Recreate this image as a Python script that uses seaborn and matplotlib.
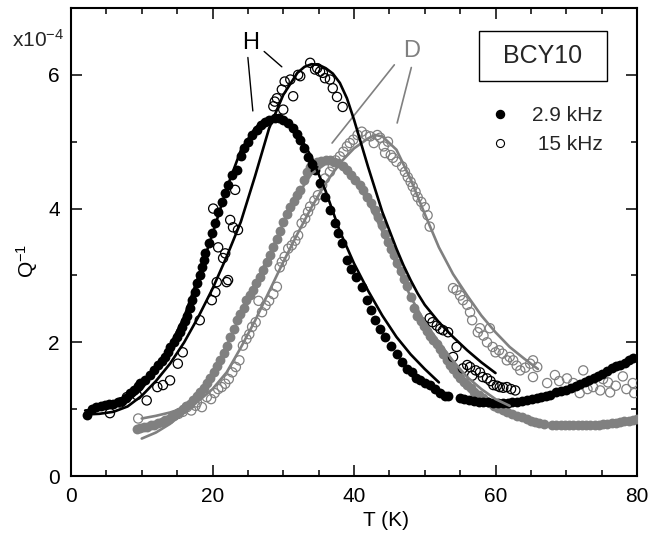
import numpy as np
import pandas as pd
import matplotlib
matplotlib.use("Agg")
import matplotlib.pyplot as plt
from matplotlib.ticker import MultipleLocator, FixedLocator
from matplotlib.lines import Line2D
from matplotlib.patches import Rectangle
import seaborn as sns

sns.set_style("ticks")
plt.rcParams["font.family"] = ["Liberation Sans", "DejaVu Sans"]
plt.rcParams["mathtext.default"] = "regular"

# ---------------- data (Q^-1 in units of 1e-4) ----------------
# H, 2.9 kHz (filled black)
h29_T = [2.2, 3.0, 3.6, 4.2, 4.8, 5.4, 6.0, 6.6, 7.2, 7.8, 8.3, 8.9, 9.5, 9.8, 10.4, 11.2, 11.8, 12.3, 12.8, 13.3,
         13.7, 14.0, 14.5, 15.0, 15.4, 15.7, 16.1, 16.4, 16.8, 17.1, 17.5, 17.8, 18.2, 18.5, 18.8, 19.0, 19.5, 19.9,
         20.3, 20.8, 21.3, 21.8, 22.2, 22.7, 23.4, 24.0, 24.5, 25.0, 25.6, 26.3, 26.9, 27.4, 28.0, 28.8, 29.4, 30.0,
         30.7, 31.4, 31.9, 32.4, 33.0, 33.5, 34.0, 34.5, 35.2, 35.9, 36.6, 37.3, 37.8, 38.3, 39.0, 39.6, 40.3, 41.1,
         41.8, 42.4, 43.0, 43.7, 44.4, 45.2, 46.1, 46.8, 47.5, 48.2, 48.8, 49.3, 50.0, 50.7, 51.4, 52.2, 52.8, 53.3,
         55.0, 55.6, 56.3, 57.0, 57.6, 58.2, 58.9, 59.6, 60.3, 61.0, 61.7, 62.4, 63.0, 63.7, 64.4, 65.1, 65.8, 66.5,
         67.1, 67.7, 68.6, 69.2, 70.0, 70.7, 71.4, 72.0, 72.6, 73.2, 73.9, 74.5, 75.1, 75.7, 76.4, 77.0, 77.6, 78.3,
         78.9, 79.5]
h29_Q = [0.91, 1.00, 1.03, 1.05, 1.06, 1.07, 1.08, 1.10, 1.12, 1.16, 1.24, 1.28, 1.35, 1.39, 1.43, 1.51, 1.58, 1.66,
         1.72, 1.78, 1.86, 1.93, 2.00, 2.08, 2.16, 2.23, 2.32, 2.40, 2.52, 2.63, 2.75, 2.88, 3.00, 3.12, 3.23, 3.33,
         3.48, 3.63, 3.78, 3.95, 4.10, 4.23, 4.36, 4.50, 4.58, 4.78, 4.90, 5.00, 5.10, 5.18, 5.25, 5.30, 5.33, 5.36,
         5.35, 5.33, 5.28, 5.21, 5.12, 5.03, 4.90, 4.77, 4.67, 4.58, 4.38, 4.17, 3.98, 3.78, 3.63, 3.48, 3.23, 3.10,
         2.97, 2.83, 2.63, 2.48, 2.33, 2.20, 2.08, 1.95, 1.83, 1.70, 1.60, 1.55, 1.47, 1.43, 1.39, 1.36, 1.30, 1.24,
         1.20, 1.19, 1.16, 1.15, 1.13, 1.12, 1.11, 1.10, 1.10, 1.09, 1.09, 1.09, 1.09, 1.10, 1.10, 1.12, 1.13, 1.15,
         1.17, 1.18, 1.20, 1.21, 1.25, 1.27, 1.28, 1.31, 1.34, 1.37, 1.40, 1.44, 1.47, 1.50, 1.53, 1.57, 1.61, 1.64,
         1.66, 1.69, 1.73, 1.76]

# H, 15 kHz (open black)
h15_T = [5.5, 7.0, 7.9, 9.3, 10.7, 12.2, 13.0, 14.0, 15.1, 15.8, 18.2, 19.9, 20.4, 20.6, 22.0, 22.2, 21.5, 20.8,
         21.8, 22.9, 23.6, 20.1, 23.2, 22.5, 28.6, 28.8, 29.1, 29.8, 30.0, 30.2, 31.0, 31.4, 32.1, 32.4, 33.8, 34.5,
         34.8, 35.2, 35.6, 35.9, 36.6, 37.0, 37.6, 38.4, 50.7, 51.1, 51.7, 52.2, 52.6, 53.3, 54.0, 54.5, 55.4, 56.0,
         56.4, 56.7, 57.2, 57.8, 58.2, 58.8, 59.3, 59.7, 60.2, 60.6, 61.1, 61.6, 62.2, 62.8]
h15_Q = [0.94, 1.10, 1.18, 1.21, 1.13, 1.33, 1.36, 1.43, 1.68, 1.85, 2.33, 2.63, 2.75, 2.90, 2.90, 2.93, 3.26, 3.42,
         3.33, 3.72, 3.68, 4.00, 4.28, 3.83, 5.53, 5.60, 5.65, 5.78, 5.48, 5.90, 5.93, 5.68, 6.00, 5.98, 6.18, 6.08,
         6.10, 6.05, 6.03, 5.95, 5.93, 5.80, 5.67, 5.52, 2.36, 2.30, 2.25, 2.20, 2.18, 2.15, 1.78, 1.93, 1.61, 1.66,
         1.63, 1.50, 1.58, 1.55, 1.48, 1.46, 1.42, 1.36, 1.35, 1.33, 1.32, 1.33, 1.30, 1.28]

# D, 2.9 kHz (filled grey)
d29_T = [9.3, 9.8, 10.3, 10.8, 11.3, 11.8, 12.3, 12.8, 13.3, 13.8, 14.3, 14.8, 15.3, 15.8, 16.3, 16.8, 17.3, 17.8,
         18.3, 18.8, 19.2, 19.7, 20.2, 20.7, 21.1, 21.6, 22.0, 22.5, 23.0, 23.5, 23.9, 24.4, 24.8, 25.3, 25.7, 26.2,
         26.7, 27.2, 27.7, 28.1, 28.6, 29.1, 29.5, 30.0, 30.5, 31.0, 31.5, 32.0, 32.4, 32.9, 33.4, 33.8, 34.2, 34.8,
         35.4, 36.0, 36.6, 37.2, 37.8, 38.4, 39.0, 39.6, 40.2, 40.8, 41.3, 41.9, 42.4, 42.9, 43.4, 43.9, 44.4, 44.8,
         45.3, 45.7, 46.1, 46.6, 47.1, 47.5, 48.0, 48.5, 48.9, 49.4, 49.9, 50.3, 50.8, 51.2, 51.7, 52.2, 52.6, 53.1,
         53.6, 54.0, 54.5, 55.0, 55.5, 56.0, 56.5, 57.0, 57.6, 58.2, 58.7, 59.2, 59.8, 60.4, 61.0, 61.6, 62.3, 63.0,
         63.7, 64.4, 65.0, 65.6, 66.2, 66.8, 68.0, 68.6, 69.2, 69.8, 70.4, 71.0, 71.6, 72.2, 72.8, 73.4, 74.0, 74.6,
         75.2, 75.8, 76.4, 77.0, 77.6, 78.2, 78.8, 79.4, 80.0]
d29_Q = [0.71, 0.72, 0.73, 0.74, 0.76, 0.77, 0.79, 0.81, 0.84, 0.86, 0.89, 0.92, 0.96, 1.00, 1.04, 1.08, 1.13, 1.19,
         1.26, 1.32, 1.39, 1.47, 1.55, 1.64, 1.73, 1.84, 1.94, 2.08, 2.20, 2.33, 2.43, 2.52, 2.63, 2.71, 2.78, 2.88,
         2.98, 3.08, 3.20, 3.30, 3.42, 3.55, 3.66, 3.80, 3.92, 4.03, 4.12, 4.20, 4.28, 4.42, 4.55, 4.62, 4.66, 4.69,
         4.71, 4.72, 4.72, 4.70, 4.68, 4.63, 4.57, 4.50, 4.43, 4.36, 4.28, 4.17, 4.08, 3.98, 3.87, 3.75, 3.62, 3.50,
         3.40, 3.30, 3.18, 3.06, 2.94, 2.84, 2.68, 2.52, 2.40, 2.32, 2.24, 2.17, 2.10, 2.04, 1.98, 1.90, 1.82, 1.73,
         1.66, 1.60, 1.53, 1.47, 1.41, 1.36, 1.31, 1.26, 1.21, 1.16, 1.12, 1.09, 1.05, 1.02, 0.98, 0.95, 0.92, 0.90,
         0.88, 0.86, 0.83, 0.81, 0.79, 0.78, 0.77, 0.77, 0.77, 0.76, 0.76, 0.76, 0.76, 0.76, 0.76, 0.76, 0.77, 0.77,
         0.78, 0.78, 0.79, 0.80, 0.81, 0.82, 0.83, 0.84, 0.85]

# D, 15 kHz (open grey)
d15_T = [9.5, 14.6, 15.2, 15.8, 16.4, 17.0, 17.6, 17.8, 18.5, 19.2, 19.8, 20.3, 20.8, 21.3, 21.8, 22.3, 22.8, 23.3,
         23.8, 24.3, 24.8, 25.2, 25.6, 26.1, 26.5, 27.0, 27.5, 28.0, 28.6, 29.1, 29.5, 29.8, 30.2, 30.7, 31.2, 31.7,
         32.1, 32.6, 33.1, 33.5, 33.8, 34.4, 34.9, 35.5, 35.9, 36.6, 37.0, 37.4, 38.0, 38.5, 39.0, 39.4, 39.9, 40.5,
         41.1, 41.7, 42.3, 42.8, 43.3, 43.7, 44.2, 44.8, 44.4, 45.2, 45.5, 46.0, 46.8, 47.2, 47.6, 48.0, 48.3, 48.7,
         49.0, 49.5, 50.0, 50.4, 50.7, 54.0, 54.5, 55.0, 55.4, 56.0, 56.4, 56.7, 57.5, 57.8, 58.3, 58.8, 59.2, 59.6,
         60.0, 60.5, 61.0, 61.6, 62.0, 62.5, 63.0, 63.5, 64.2, 64.9, 65.3, 65.3, 65.9, 67.3, 68.4, 69.0, 70.1, 71.0,
         71.9, 72.4, 73.0, 73.8, 74.8, 75.2, 75.9, 76.2, 77.0, 78.0, 78.5, 79.4, 79.6]
d15_Q = [0.86, 0.90, 0.93, 0.96, 1.03, 0.98, 1.05, 1.10, 1.03, 1.18, 1.15, 1.24, 1.30, 1.33, 1.38, 1.45, 1.55, 1.63,
         1.73, 1.95, 2.05, 2.12, 2.23, 2.30, 2.62, 2.45, 2.55, 2.62, 2.72, 2.83, 3.12, 3.20, 3.28, 3.40, 3.45, 3.52,
         3.60, 3.78, 3.85, 3.95, 4.03, 4.12, 4.20, 4.35, 4.45, 4.55, 4.63, 4.72, 4.78, 4.85, 4.93, 4.98, 5.03, 5.10,
         5.15, 5.10, 5.08, 4.98, 5.10, 5.06, 4.93, 5.00, 4.83, 4.80, 4.76, 4.70, 4.63, 4.55, 4.47, 4.40, 4.33, 4.25,
         4.17, 4.10, 4.02, 3.90, 3.73, 2.81, 2.78, 2.70, 2.63, 2.56, 2.45, 2.33, 2.15, 2.21, 2.10, 2.00, 2.21, 1.93,
         1.85, 1.88, 1.83, 1.73, 1.78, 1.73, 1.65, 1.58, 1.62, 1.68, 1.73, 1.48, 1.63, 1.39, 1.51, 1.42, 1.46, 1.39,
         1.24, 1.58, 1.30, 1.33, 1.28, 1.45, 1.40, 1.25, 1.35, 1.49, 1.30, 1.39, 1.24]

# fit curves
fit_h29_T = [2, 4, 6, 8, 10, 12, 14, 16, 18, 20, 22, 24, 26, 27, 28, 29, 30, 31, 32, 34, 36, 38, 40, 42, 44, 46, 48,
             50, 52]
fit_h29_Q = [0.98, 1.00, 1.03, 1.12, 1.30, 1.60, 1.95, 2.38, 2.98, 3.62, 4.30, 4.87, 5.20, 5.30, 5.36, 5.38, 5.35,
             5.27, 5.14, 4.77, 4.26, 3.66, 3.18, 2.77, 2.40, 2.08, 1.82, 1.60, 1.40]
fit_h15_T = [2, 4, 6, 8, 10, 12, 14, 16, 18, 20, 22, 24, 26, 28, 30, 32, 33, 34, 35, 36, 37, 38, 39, 40, 42, 44, 46,
             47, 48, 49, 50, 52, 54, 56, 58, 60]
fit_h15_Q = [0.92, 0.93, 0.96, 1.04, 1.20, 1.42, 1.68, 2.00, 2.38, 2.80, 3.28, 3.80, 4.48, 5.20, 5.70, 6.03, 6.12,
             6.16, 6.15, 6.10, 6.02, 5.88, 5.65, 5.33, 4.62, 3.95, 3.40, 3.15, 2.93, 2.73, 2.56, 2.30, 2.08, 1.88,
             1.70, 1.54]
fit_d29_T = [10, 12, 14, 16, 18, 20, 22, 24, 26, 28, 30, 32, 34, 36, 37, 38, 40, 42, 44, 46, 48, 50, 52, 54, 56, 58,
             60, 62]
fit_d29_Q = [0.56, 0.65, 0.78, 0.95, 1.18, 1.50, 1.95, 2.42, 2.87, 3.30, 3.78, 4.20, 4.52, 4.67, 4.68, 4.66, 4.45,
             4.10, 3.66, 3.16, 2.68, 2.30, 2.00, 1.72, 1.48, 1.30, 1.15, 1.05]
fit_d15_T = [10, 12, 14, 16, 18, 20, 22, 24, 26, 28, 30, 32, 34, 36, 38, 40, 42, 43, 44, 46, 48, 50, 52, 54, 56, 58,
             60, 62, 64, 66]
fit_d15_Q = [0.86, 0.90, 0.95, 1.02, 1.12, 1.30, 1.55, 1.92, 2.32, 2.76, 3.20, 3.62, 4.02, 4.38, 4.68, 4.90, 5.05,
             5.10, 5.08, 4.88, 4.44, 3.92, 3.42, 3.02, 2.70, 2.40, 2.15, 1.93, 1.76, 1.60]

x_ticks = [0, 20, 40, 60, 80]
y_ticks = [0, 2, 4, 6]
legend_labels = ["2.9 kHz", " 15 kHz"]

GREY = "#808080"

# ---------------- figure ----------------
W, H = 649, 533
fig = plt.figure(figsize=(W / 100, H / 100), dpi=100)
ax = fig.add_axes([71 / W, 1 - 476 / H, 566 / W, 468 / H])

def scatter(T, Q, color, filled, size):
    sns.scatterplot(x=T, y=Q, ax=ax, color=color, marker="o", s=size,
                    linewidth=0.9 if not filled else 0, edgecolor=color, legend=False, zorder=3)
    if not filled:
        ax.collections[-1].set_facecolor("none")
        ax.collections[-1].set_edgecolor(color)

def fit(T, Q, color):
    sns.lineplot(x=T, y=Q, ax=ax, color=color, linewidth=1.9, estimator=None, sort=False, zorder=4)

scatter(d29_T, d29_Q, GREY, True, 50)
scatter(d15_T, d15_Q, GREY, False, 44)
fit(fit_d29_T, fit_d29_Q, GREY)
fit(fit_d15_T, fit_d15_Q, GREY)
scatter(h29_T, h29_Q, "black", True, 50)
scatter(h15_T, h15_Q, "black", False, 44)
fit(fit_h29_T, fit_h29_Q, "black")
fit(fit_h15_T, fit_h15_Q, "black")

ax.set_xlim(0, 80)
ax.set_ylim(0, 7)
ax.xaxis.set_major_locator(FixedLocator(x_ticks))
ax.yaxis.set_major_locator(FixedLocator(y_ticks))
ax.xaxis.set_minor_locator(MultipleLocator(5))
ax.yaxis.set_minor_locator(MultipleLocator(1))
ax.set_xticklabels([str(v) for v in x_ticks])
ax.set_yticklabels([str(v) for v in y_ticks])
ax.tick_params(which="both", direction="in", top=True, right=True, labelsize=15, width=1.1, pad=8,
               color="black", labelcolor="black")
ax.tick_params(which="major", length=8)
ax.tick_params(which="minor", length=4.5)
for s in ax.spines.values():
    s.set_linewidth(1.5)
    s.set_color("black")

ax.set_xlabel("T (K)", fontsize=15, color="black")
ax.set_ylabel("Q$^{-1}$", fontsize=15, color="black")
ax.xaxis.set_label_coords(0.557, -0.074)
ax.yaxis.set_label_coords(-0.054, 0.46)

fig.text(12 / W, 1 - 47 / H, "x10$^{-4}$", fontsize=15, ha="left", va="baseline")

# annotations H and D
ax.text(25.4, 6.38, "H", fontsize=17, ha="center", va="baseline", color="black")
ax.plot([25.0, 25.7], [6.26, 5.46], color="black", lw=1.0)
ax.plot([27.3, 29.8], [6.35, 6.12], color="black", lw=1.0)
ax.text(48.1, 6.27, "D", fontsize=17, ha="center", va="baseline", color=GREY)
ax.plot([45.7, 36.9], [6.15, 4.98], color=GREY, lw=1.2)
ax.plot([48.1, 46.1], [6.11, 5.28], color=GREY, lw=1.2)

# BCY10 box
x0, x1 = (479 - 71) / 566, (607 - 71) / 566
y0, y1 = (476 - 81) / 468, (476 - 31) / 468
ax.add_patch(Rectangle((x0, y0), x1 - x0, y1 - y0, transform=ax.transAxes, fill=False,
                       edgecolor="black", lw=1.0, zorder=5))
ax.text((x0 + x1) / 2, (y0 + y1) / 2, "BCY10", transform=ax.transAxes, fontsize=18,
        ha="center", va="center", zorder=6)

handles = [Line2D([], [], marker="o", linestyle="", color="black", markersize=5.8),
           Line2D([], [], marker="o", linestyle="", markerfacecolor="none", markeredgecolor="black",
                  markeredgewidth=0.8, markersize=5.8)]
leg = ax.legend(handles, legend_labels, loc="upper left",
                bbox_to_anchor=((489.6 - 71) / 566, (476 - 106) / 468), frameon=False, fontsize=15,
                handlelength=1.0, handletextpad=1.04, labelspacing=0.5, borderpad=0, borderaxespad=0)

fig.savefig("out.png", dpi=100)
